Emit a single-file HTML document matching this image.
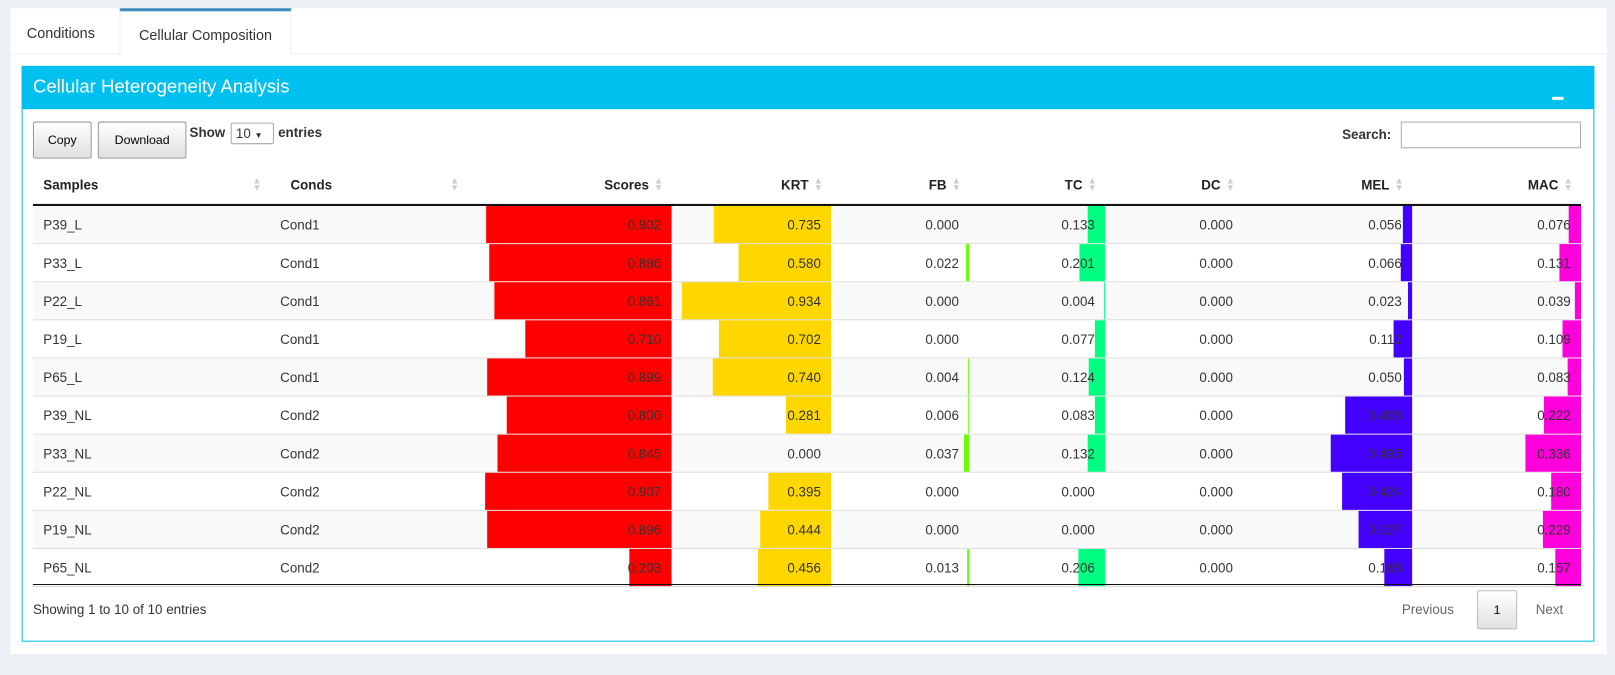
<!DOCTYPE html>
<html><head><meta charset="utf-8">
<style>
body{margin:0;width:1615px;height:655px;background:#ecf0f5;font-family:"Liberation Sans",sans-serif;font-size:13px;color:#333;position:relative;overflow:hidden}
#wrap{position:absolute;left:0;top:0;width:1615px;height:655px;transform:scale(1.03);transform-origin:0 0}
.abs{position:absolute}
.btn{position:absolute;background:linear-gradient(#fff,#e0e0e0);border:1px solid #999;border-radius:2px;font-size:12px;display:flex;align-items:center;justify-content:center;color:#000}
.cell{position:absolute;height:37px;line-height:37px;white-space:nowrap}
.hd{position:absolute;top:160px;height:39px;line-height:39px;font-weight:bold;color:#222}
.arr{position:absolute;color:#ccc;font-size:9px;line-height:7px;top:172px}
</style></head><body>
<div id="wrap">
<div class="abs" style="left:10px;top:8px;width:1550px;height:627px;background:#fff"></div>
<div class="abs" style="left:26px;top:24px;font-size:14px">Conditions</div>
<div class="abs" style="left:10px;top:52px;width:1550px;height:1px;background:#f0f0f0"></div>
<div class="abs" style="left:116px;top:8px;width:165px;height:42px;border-top:3px solid #3c8dbc;border-left:1px solid #eee;border-right:1px solid #eee;background:#fff;font-size:14px;line-height:46px;text-align:center">Cellular Composition</div>
<div class="abs" style="left:21px;top:64px;width:1525px;height:557px;border:1px solid #00c0ef;background:#fff"></div>
<div class="abs" style="left:21px;top:64px;width:1527px;height:42px;background:#00c0ef"></div>
<div class="abs" style="left:32px;top:74px;color:#fff;font-size:18px">Cellular Heterogeneity Analysis</div>
<div class="abs" style="left:1507px;top:94px;width:11px;height:3px;background:#fff"></div>
<div class="btn" style="left:32px;top:118px;width:55px;height:34px">Copy</div>
<div class="btn" style="left:95px;top:118px;width:84px;height:34px">Download</div>
<div class="abs" style="left:184px;top:121px;font-weight:bold">Show</div>
<div class="abs" style="left:224px;top:119px;border:1px solid #aaa;border-radius:2px;font-size:13px;line-height:19px;padding-left:4px;box-sizing:border-box;width:42px;height:21px">10 <span style="font-size:8px">▼</span></div>
<div class="abs" style="left:270px;top:121px;font-weight:bold">entries</div>
<div class="abs" style="left:1303px;top:123px;font-weight:bold">Search:</div>
<div class="abs" style="left:1360px;top:118px;border:1px solid #aaa;box-sizing:border-box;width:175px;height:26px"></div>
<div id="tbl"></div>
<div class="abs" style="left:32px;top:584px">Showing 1 to 10 of 10 entries</div>
<div class="abs" style="left:1361px;top:584px;color:#666">Previous</div>
<div class="btn" style="left:1434px;top:573px;width:37px;height:36px;border-color:#bbb">1</div>
<div class="abs" style="left:1491px;top:584px;color:#666">Next</div>
</div>
<script>
const samples=["P39_L","P33_L","P22_L","P19_L","P65_L","P39_NL","P33_NL","P22_NL","P19_NL","P65_NL"];
const conds=["Cond1","Cond1","Cond1","Cond1","Cond1","Cond2","Cond2","Cond2","Cond2","Cond2"];
const scores=[0.902,0.886,0.861,0.710,0.899,0.800,0.845,0.907,0.896,0.203];
const krt=[0.735,0.580,0.934,0.702,0.740,0.281,0.000,0.395,0.444,0.456];
const fb=[0.000,0.022,0.000,0.000,0.004,0.006,0.037,0.000,0.000,0.013];
const tc=[0.133,0.201,0.004,0.077,0.124,0.083,0.132,0.000,0.000,0.206];
const dc=[0,0,0,0,0,0,0,0,0,0];
const mel=[0.056,0.066,0.023,0.112,0.050,0.408,0.495,0.424,0.327,0.168];
const mac=[0.076,0.131,0.039,0.109,0.083,0.222,0.336,0.180,0.229,0.157];
const numCols=[
 {name:"Scores",v:scores,right:652,w:181,c:"#ff0000"},
 {name:"KRT",v:krt,right:807,w:145,c:"#ffd700"},
 {name:"FB",v:fb,right:941,w:5,c:"#66ff00"},
 {name:"TC",v:tc,right:1073,w:26,c:"#00ff80"},
 {name:"DC",v:dc,right:1207,w:0,c:"#00bfff"},
 {name:"MEL",v:mel,right:1371,w:79,c:"#4400ff"},
 {name:"MAC",v:mac,right:1535,w:54,c:"#ff00dd"}];
const T=document.getElementById('tbl');
function add(html){T.insertAdjacentHTML('beforeend',html);return T.lastElementChild;}
const top0=200,rh=37;
function arrows(x,nm){
 const a=add('<div class="arr" style="left:'+x+'px">▲<br>▼</div>');
 
 
}
let h=add('<div class="hd" style="left:42px">Samples</div>');

arrows(245,'samples');
h=add('<div class="hd" style="left:282px">Conds</div>');

arrows(437,'conds');
numCols.forEach(col=>{
 const e=add('<div class="hd" style="right:'+(1615-col.right+22)+'px">'+col.name+'</div>');
 
 
 arrows(col.right-17,col.name.toLowerCase());
});
const hl=add('<div class="abs" style="left:32px;top:198px;width:1503px;height:2px;background:#111"></div>');

samples.forEach((s,i)=>{
 const y=top0+i*rh;
 const r=add('<div class="abs" style="left:32px;top:'+y+'px;width:1503px;height:'+(rh-1)+'px;background:'+(i%2==0?'#f9f9f9':'#fff')+';border-bottom:1px solid #ddd"></div>');
 
 
});
numCols.forEach(col=>{
 const mx=Math.max(...col.v);
 col.v.forEach((v,i)=>{
  if(mx<=0||v<=0)return;
  const bw=v/mx*col.w;
  const b=add('<div class="abs" style="left:'+(col.right-bw)+'px;top:'+(top0+i*rh)+'px;width:'+bw+'px;height:'+(rh-1)+'px;background:'+col.c+'"></div>');
  
  
 });
});
samples.forEach((s,i)=>{
 const y=top0+i*rh;
 let c=add('<div class="cell" style="left:42px;top:'+y+'px">'+s+'</div>');
 
 c=add('<div class="cell" style="left:272px;top:'+y+'px">'+conds[i]+'</div>');
 
 numCols.forEach(col=>{
  const d=add('<div class="cell" style="right:'+(1615-col.right+10)+'px;top:'+y+'px">'+col.v[i].toFixed(3)+'</div>');
  
  
 });
});
const bl=add('<div class="abs" style="left:32px;top:567px;width:1503px;height:1px;background:#111"></div>');

</script>
</body></html>
